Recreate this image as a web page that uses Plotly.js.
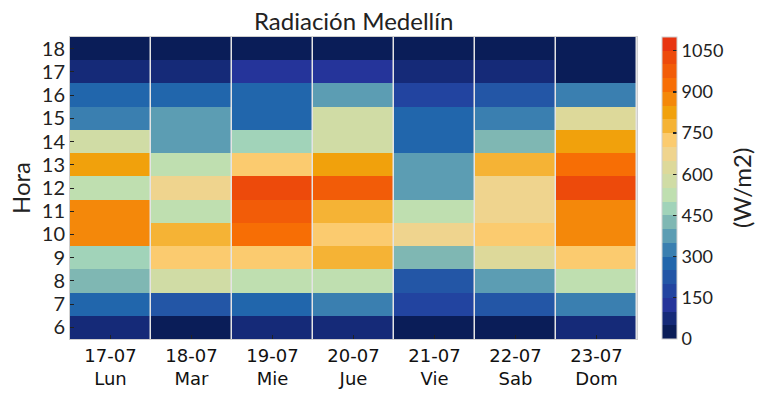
<!DOCTYPE html>
<html>
<head>
<meta charset="utf-8">
<script src="https://cdn.plot.ly/plotly-3.0.1.min.js"></script>
<style>html,body{margin:0;padding:0;background:#fff;}</style>
</head>
<body>
<div id="chart" style="width:764px;height:395px;"></div>
<script>
const dias = ["17-07", "18-07", "19-07", "20-07", "21-07", "22-07", "23-07"];
const diasSemana = ["Lun", "Mar", "Mie", "Jue", "Vie", "Sab", "Dom"];
const horas = [6, 7, 8, 9, 10, 11, 12, 13, 14, 15, 16, 17, 18];

// Radiation (W/m2) per day, listed by hour 6..18
const lun = [75, 275, 425, 475, 875, 875, 525, 825, 575, 325, 275, 75, 25];
const mar = [25, 225, 575, 725, 775, 525, 675, 525, 375, 375, 275, 75, 25];
const mie = [75, 275, 525, 725, 925, 975, 1025, 725, 475, 275, 275, 125, 25];
const jue = [75, 325, 525, 775, 725, 775, 975, 825, 575, 575, 375, 125, 25];
const vie = [25, 175, 225, 425, 675, 525, 375, 375, 275, 275, 175, 75, 25];
const sab = [25, 225, 375, 625, 725, 675, 675, 775, 425, 325, 225, 75, 25];
const dom = [75, 325, 525, 725, 875, 875, 1025, 925, 825, 625, 325, 25, 25];

const bandColors = [
  "#0a1d58", "#152a78", "#25349a", "#2244a0", "#2356a6", "#2166ac",
  "#3a7fb0", "#5c9db3", "#7fb7b3", "#a1d3b9", "#bfdfb0", "#d0dca5",
  "#ddd99a", "#efd48e", "#fbcb6f", "#f5b335", "#f1a10c", "#f4880a",
  "#f76e05", "#f25c08", "#ed4a0b", "#e83410"
];

const series = [lun, mar, mie, jue, vie, sab, dom];
const z = horas.map((h, i) => series.map(s => s[i]));

const n = bandColors.length;
const colorscale = [];
bandColors.forEach((c, i) => {
  colorscale.push([i / n, c]);
  colorscale.push([(i + 1) / n, c]);
});

const FONT = "Lato, 'Open Sans', sans-serif";

const trace = {
  type: "heatmap",
  x: dias,
  y: horas,
  z: z,
  zmin: 0,
  zmax: 1100,
  colorscale: colorscale,
  xgap: 1.5,
  colorbar: {
    x: 1.044, xanchor: "left", xref: "paper", xpad: 0,
    y: 0.5, yanchor: "middle", len: 1, lenmode: "fraction", ypad: 0,
    thickness: 15, thicknessmode: "pixels",
    outlinecolor: "#d0d0d0", outlinewidth: 1,
    tickvals: [0, 150, 300, 450, 600, 750, 900, 1050],
    ticks: "inside", ticklen: 4, tickcolor: "#222", tickwidth: 1.2,
    tickfont: {family: FONT, size: 18, color: "#222"}
  }
};

const layout = {
  width: 764, height: 395,
  margin: {l: 70, r: 127, t: 37, b: 56, autoexpand: false},
  paper_bgcolor: "#ffffff",
  plot_bgcolor: "#e4e4e4",
  title: {text: "Radiación Medellín", x: 0.463, xanchor: "center", y: 0.945, yanchor: "middle",
          font: {family: FONT, size: 24, color: "#222"}},
  xaxis: {
    type: "category",
    tickvals: dias,
    ticktext: dias.map((d, i) => d + "<br>" + diasSemana[i]),
    ticks: "inside", ticklen: 4, tickcolor: "#222",
    tickfont: {family: "'DejaVu Sans', sans-serif", size: 18, color: "#111"},
    showline: true, linecolor: "#cfcfcf", linewidth: 1, mirror: true,
    showgrid: false, zeroline: false
  },
  yaxis: {
    tickvals: horas,
    ticks: "inside", ticklen: 4, tickcolor: "#222",
    tickfont: {family: FONT, size: 20, color: "#222"},
    title: {text: "Hora", font: {family: FONT, size: 24, color: "#222"}, standoff: 4},
    showline: true, linecolor: "#cfcfcf", linewidth: 1, mirror: true,
    showgrid: false, zeroline: false
  },
  annotations: [{
    text: "(W/m2)", textangle: -90, showarrow: false,
    xref: "paper", yref: "paper", x: 1.1834, y: 0.5,
    xanchor: "center", yanchor: "middle",
    font: {family: FONT, size: 24, color: "#222"}
  }]
};

Plotly.newPlot("chart", [trace], layout, {displayModeBar: false, staticPlot: true});
</script>
</body>
</html>
